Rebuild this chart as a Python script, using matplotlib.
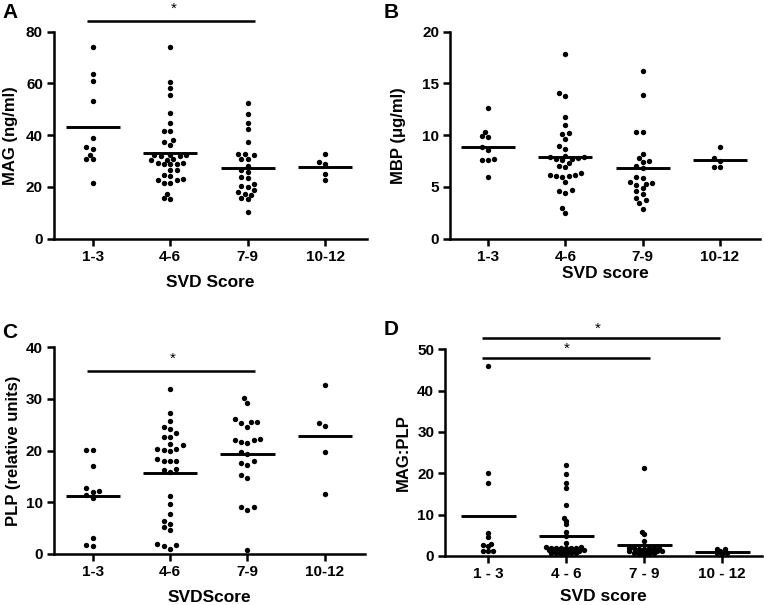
import numpy as np
import matplotlib
matplotlib.use('Agg')
import matplotlib.pyplot as plt

plt.rcParams['font.family'] = ['Liberation Sans', 'DejaVu Sans']
plt.rcParams['font.weight'] = 'bold'

groups = ['1-3', '4-6', '7-9', '10-12']
groups_d = ['1 - 3', '4 - 6', '7 - 9', '10 - 12']

# A: MAG (ng/ml)
mag = [
    [73.9, 63.6, 61.0, 53.3, 39.1, 35.5, 34.6, 32.3, 30.7, 30.7, 21.4],
    [73.9, 60.5, 58.2, 55.5, 48.5, 44.6, 41.8, 41.8, 38.2, 37.2, 36.4, 32.5,
     32.3, 32.2, 32.0, 31.8, 30.7, 30.5, 30.3, 29.3, 29.2, 29.0, 28.9, 28.8,
     26.6, 26.4, 24.6, 24.3, 23.0, 22.8, 22.6, 21.7, 21.5, 17.2, 15.6, 15.5],
    [52.6, 48.1, 44.6, 42.5, 37.2, 32.7, 32.6, 32.2, 30.7, 30.7, 28.0, 26.6,
     25.8, 24.0, 23.5, 21.0, 20.5, 20.1, 18.8, 18.2, 17.3, 16.9, 15.6, 15.2, 10.3],
    [32.8, 29.8, 28.9, 25.0, 22.7],
]

# B: MBP (ug/ml)
mbp = [
    [12.6, 10.3, 9.9, 9.8, 8.9, 8.6, 7.7, 7.6, 7.6, 6.0],
    [17.8, 14.1, 13.8, 11.8, 11.0, 10.2, 10.1, 9.6, 9.0, 8.7, 8.0, 7.9, 7.9,
     7.8, 7.7, 7.7, 7.6, 7.3, 7.0, 6.9, 6.3, 6.2, 6.2, 6.1, 6.1, 6.0, 5.5,
     4.7, 4.6, 4.4, 3.0, 2.5],
    [16.2, 13.9, 10.3, 10.3, 8.2, 7.8, 7.5, 7.4, 7.0, 6.8, 6.0, 5.9, 5.5,
     5.4, 5.3, 5.2, 4.9, 4.6, 4.3, 3.9, 3.7, 3.4, 2.9],
    [8.9, 7.8, 7.5, 6.9, 6.9],
]

# C: PLP (relative units)
plp = [
    [20.2, 20.2, 17.0, 12.8, 12.1, 12.0, 11.5, 10.8, 3.0, 1.8, 1.6],
    [31.9, 27.2, 25.8, 24.6, 24.2, 23.4, 22.6, 22.6, 21.3, 21.0, 20.4, 20.3,
     20.2, 20.0, 18.4, 18.0, 17.9, 17.9, 16.4, 16.3, 15.8, 11.2, 9.7, 7.8,
     6.4, 5.9, 5.3, 4.6, 1.9, 1.8, 1.6, 1.0],
    [30.1, 29.2, 26.1, 25.6, 25.5, 25.3, 24.5, 22.2, 22.1, 22.1, 21.7, 21.5,
     19.7, 19.4, 18.0, 17.7, 17.2, 15.2, 14.8, 9.0, 9.0, 8.6, 0.8],
    [32.7, 25.3, 24.8, 19.8, 11.6],
]

# D: MAG:PLP
ratio = [
    [46.0, 20.0, 17.6, 5.6, 4.5, 2.9, 2.7, 2.4, 1.3, 1.3, 1.3],
    [21.9, 19.8, 17.7, 16.4, 12.3, 9.1, 8.5, 7.7, 5.9, 4.8, 3.2,
     2.1, 2.0, 2.0, 1.9, 2.0, 2.1, 1.9, 2.0,
     1.3, 1.4, 1.2, 1.3, 1.3, 1.4, 1.2, 1.3,
     0.7, 0.6, 0.8, 0.7, 0.7, 0.6],
    [21.4, 5.9, 5.4, 3.7, 1.9, 2.0, 1.8, 1.9, 2.0, 1.9, 1.8,
     1.2, 1.1, 1.3, 1.2, 1.1, 1.2, 1.1, 0.7, 0.6, 0.7, 0.6, 0.6],
    [1.6, 0.7, 0.5, 0.7, 1.2, 1.8],
]


def swarm_x(ax, values, center, step_px=6.3, min_px=5.2):
    tr = ax.transData
    ys = tr.transform(np.column_stack([np.full(len(values), center), values]))[:, 1]
    px_per_unit = tr.transform((1, 0))[0] - tr.transform((0, 0))[0]
    xs = np.zeros(len(values))
    placed = []
    cands = [0.0]
    for k in range(1, 40):
        cands += [-k / 2, k / 2]
    for i in np.argsort(ys):
        for k in cands:
            x = k * step_px
            if all((x - px) ** 2 + (ys[i] - py) ** 2 >= min_px ** 2 for px, py in placed):
                break
        placed.append((x, ys[i]))
        xs[i] = x
    return center + xs / px_per_unit


def panel(rect, data, ylim, yticks, xlim, ticklabels, ylabel, xlabel,
          letter, letter_xy, xpad, ypad, min_px=5.2, step_px=6.3):
    ax = fig.add_axes(rect)
    ax.set_xlim(*xlim)
    ax.set_ylim(*ylim)
    for i, vals in enumerate(data):
        xs = swarm_x(ax, vals, i, step_px=step_px, min_px=min_px)
        ax.scatter(xs, vals, s=15, color='black', zorder=3, clip_on=False,
                   linewidths=0)
        ax.plot([i - 0.35, i + 0.35], [np.mean(vals)] * 2, color='black',
                lw=2.1, zorder=4, solid_capstyle='butt')
    ax.set_xticks(range(len(data)))
    ax.set_xticklabels(ticklabels)
    ax.set_yticks(yticks)
    for s in ['top', 'right']:
        ax.spines[s].set_visible(False)
    for s in ['left', 'bottom']:
        ax.spines[s].set_linewidth(1.8)
    ax.tick_params(width=1.8, length=5, labelsize=11, pad=3)
    ax.set_ylabel(ylabel, fontsize=12, fontweight='bold', labelpad=ypad)
    ax.set_xlabel(xlabel, fontsize=12.5, fontweight='bold', labelpad=xpad)
    fig.text(letter_xy[0] / 764, 1 - letter_xy[1] / 605, letter,
             fontsize=15, fontweight='bold', ha='left', va='top')
    return ax


def sig_bar(ax, x0, x1, y, ystar, xstar):
    ax.plot([x0, x1], [y, y], color='black', lw=1.8, clip_on=False,
            solid_capstyle='butt')
    ax.text(xstar, ystar, '*', fontsize=11, fontweight='normal',
            ha='center', va='center', clip_on=False)


fig = plt.figure(figsize=(7.64, 6.05), dpi=100)

ax_a = panel([0.0707, 0.6055, 0.4097, 0.3421], mag, (0, 80), range(0, 81, 20),
             (-0.5, 3.54), groups, 'MAG (ng/ml)', 'SVD Score', 'A', (2, 3), 8, 6)
sig_bar(ax_a, -0.07, 2.1, 84.3, 89.0, 1.04)

panel([0.5894, 0.6055, 0.4054, 0.3421], mbp, (0, 20), range(0, 21, 5),
      (-0.49, 3.52), groups, 'MBP (\u03bcg/ml)', 'SVD score', 'B', (384, 3), 1.5, 12)

ax_c = panel([0.0707, 0.0843, 0.4071, 0.3417], plp, (0, 40), range(0, 41, 10),
             (-0.5, 3.52), groups, 'PLP (relative units)', 'SVDScore', 'C',
             (2, 323), 7.5, 3.5)
sig_bar(ax_c, -0.07, 2.1, 35.5, 37.8, 1.04)

ax_d = panel([0.5829, 0.081, 0.4145, 0.3417], ratio, (0, 50), range(0, 51, 10),
             (-0.55, 3.51), groups_d, 'MAG:PLP', 'SVD score', 'D', (384, 320),
             6.0, 4.3, min_px=3.2, step_px=5.0)
sig_bar(ax_d, -0.08, 2.97, 52.8, 55.0, 1.41)
sig_bar(ax_d, -0.08, 2.08, 48.0, 50.2, 1.01)

fig.savefig('out.png', dpi=100)
